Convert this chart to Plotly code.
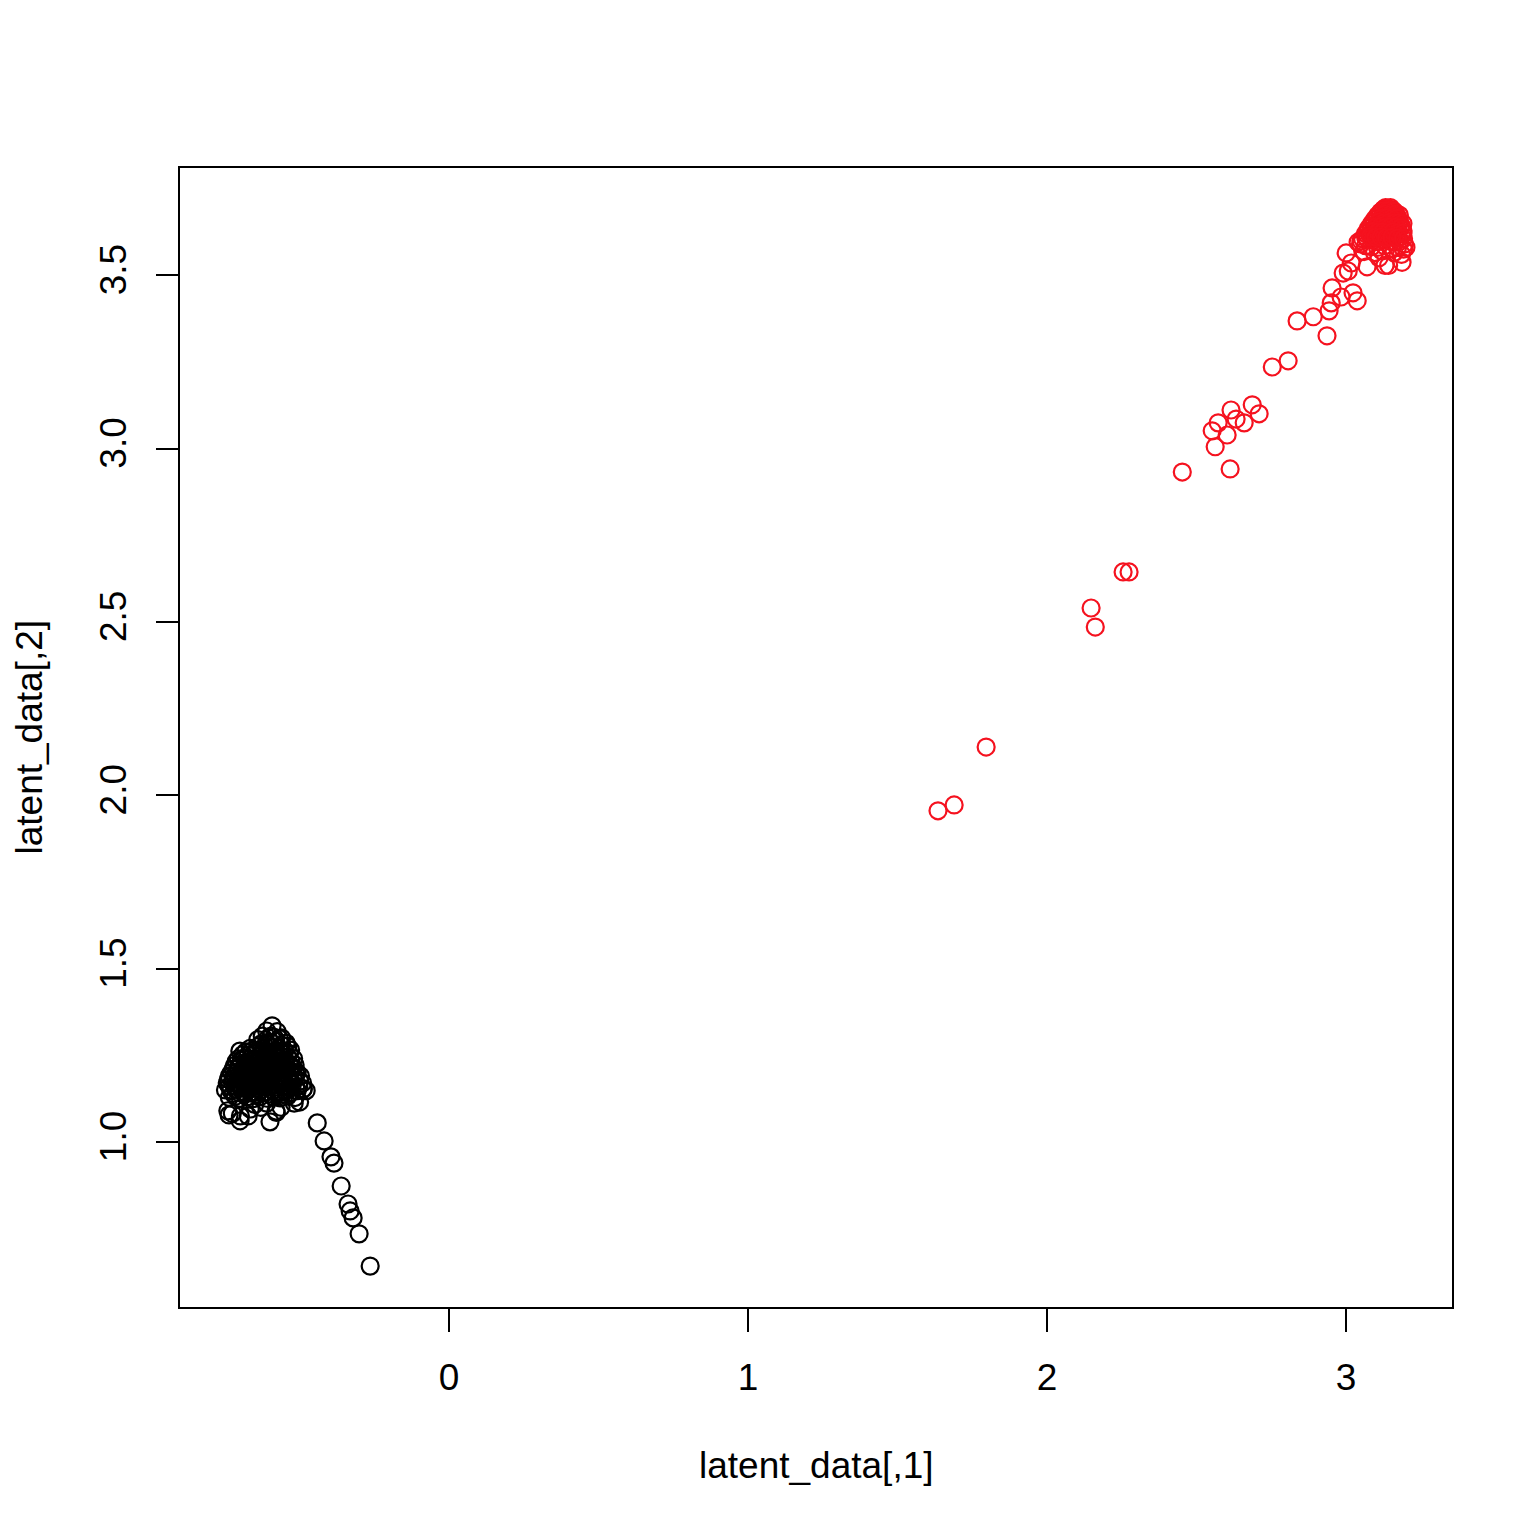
import plotly.graph_objects as go

# Black group (cluster + tail)
black_x = [
    -0.592, -0.610, -0.575, -0.625, -0.595, -0.560, -0.640, -0.580, -0.612, -0.545,
    -0.665, -0.640, -0.620, -0.598, -0.570, -0.550, -0.530,
    -0.700, -0.690, -0.672, -0.655, -0.632, -0.610, -0.588, -0.565, -0.540, -0.520,
    -0.712, -0.695, -0.678, -0.660, -0.642, -0.622, -0.600, -0.580, -0.558, -0.535, -0.515,
    -0.722, -0.705, -0.688, -0.668, -0.648, -0.628, -0.608, -0.588, -0.568, -0.548, -0.528, -0.508,
    -0.735, -0.715, -0.698, -0.678, -0.658, -0.638, -0.618, -0.598, -0.578, -0.556, -0.536, -0.516, -0.497,
    -0.742, -0.725, -0.707, -0.688, -0.668, -0.648, -0.628, -0.606, -0.586, -0.565, -0.545, -0.524, -0.503, -0.490,
    -0.748, -0.730, -0.712, -0.692, -0.672, -0.652, -0.632, -0.612, -0.590, -0.570, -0.548, -0.528, -0.508, -0.488, -0.478,
    -0.735, -0.715, -0.698, -0.676, -0.655, -0.633, -0.610, -0.588, -0.565, -0.540, -0.515, -0.500,
    -0.740, -0.736, -0.725, -0.699, -0.698, -0.672, -0.665, -0.650, -0.630, -0.610, -0.599, -0.579, -0.578, -0.562, -0.518, -0.488,
    -0.605, -0.585, -0.568,
    -0.630, -0.605, -0.590, -0.560, -0.540,
    -0.680, -0.660, -0.645, -0.625, -0.605, -0.580, -0.558, -0.535,
    -0.705, -0.685, -0.665, -0.648, -0.630, -0.612, -0.592, -0.572, -0.552, -0.530,
    -0.718, -0.700, -0.682, -0.662, -0.645, -0.625, -0.605, -0.585, -0.565, -0.545, -0.522,
    -0.728, -0.710, -0.692, -0.672, -0.652, -0.632, -0.612, -0.592, -0.572, -0.552, -0.532, -0.512,
    -0.738, -0.720, -0.700, -0.680, -0.660, -0.640, -0.620, -0.600, -0.580, -0.560, -0.540, -0.520, -0.500,
    -0.735, -0.716, -0.697, -0.678, -0.658, -0.638, -0.617, -0.596, -0.575, -0.555, -0.535, -0.513,
    -0.722, -0.702, -0.682, -0.662, -0.642, -0.622, -0.600, -0.580, -0.558, -0.535,
    -0.441, -0.418, -0.395, -0.385, -0.361, -0.338, -0.331, -0.321, -0.301, -0.264,
]
black_y = [
    1.335, 1.320, 1.318, 1.305, 1.305, 1.300, 1.295, 1.290, 1.285, 1.285,
    1.270, 1.275, 1.268, 1.272, 1.270, 1.262, 1.265,
    1.262, 1.252, 1.250, 1.255, 1.250, 1.252, 1.248, 1.250, 1.245, 1.240,
    1.232, 1.235, 1.228, 1.232, 1.230, 1.233, 1.228, 1.232, 1.228, 1.225, 1.222,
    1.210, 1.213, 1.208, 1.212, 1.207, 1.212, 1.208, 1.212, 1.206, 1.210, 1.204, 1.200,
    1.190, 1.192, 1.188, 1.193, 1.187, 1.190, 1.186, 1.191, 1.186, 1.190, 1.184, 1.186, 1.190,
    1.170, 1.172, 1.168, 1.172, 1.166, 1.170, 1.165, 1.170, 1.165, 1.168, 1.163, 1.166, 1.160, 1.170,
    1.150, 1.148, 1.152, 1.146, 1.150, 1.145, 1.150, 1.144, 1.148, 1.142, 1.147, 1.143, 1.148, 1.153, 1.148,
    1.128, 1.132, 1.126, 1.130, 1.125, 1.130, 1.126, 1.130, 1.127, 1.132, 1.128, 1.115,
    1.090, 1.078, 1.082, 1.061, 1.075, 1.075, 1.095, 1.108, 1.100, 1.112, 1.058, 1.089, 1.085, 1.100, 1.112, 1.153,
    1.300, 1.302, 1.298,
    1.282, 1.280, 1.284, 1.279, 1.276,
    1.260, 1.262, 1.259, 1.261, 1.258, 1.262, 1.258, 1.255,
    1.240, 1.242, 1.239, 1.241, 1.238, 1.242, 1.239, 1.241, 1.237, 1.235,
    1.220, 1.222, 1.219, 1.221, 1.218, 1.222, 1.219, 1.221, 1.218, 1.220, 1.215,
    1.200, 1.202, 1.199, 1.201, 1.198, 1.202, 1.199, 1.201, 1.198, 1.200, 1.197, 1.195,
    1.180, 1.182, 1.179, 1.181, 1.178, 1.182, 1.179, 1.181, 1.178, 1.180, 1.177, 1.179, 1.176,
    1.160, 1.162, 1.159, 1.161, 1.158, 1.162, 1.159, 1.161, 1.158, 1.160, 1.157, 1.158,
    1.140, 1.142, 1.139, 1.141, 1.138, 1.142, 1.139, 1.141, 1.138, 1.140,
    1.055, 1.003, 0.957, 0.939, 0.873, 0.821, 0.801, 0.781, 0.735, 0.642,
]

# Red group (trail + dense cluster)
red_x = [
    1.635, 1.689, 1.796, 2.147, 2.161, 2.254, 2.274, 2.452, 2.552, 2.562,
    2.572, 2.602, 2.612, 2.615, 2.632, 2.659, 2.686, 2.709, 2.753, 2.806,
    2.836, 2.890, 2.936, 2.943, 2.950, 2.953, 2.983, 2.990, 3.000, 3.007,
    3.017, 3.023, 3.037, 3.070, 3.050,
    3.125, 3.140, 3.155, 3.115, 3.132, 3.148, 3.165, 3.105, 3.122, 3.138,
    3.155, 3.172, 3.095, 3.112, 3.128, 3.145, 3.162, 3.178, 3.085, 3.102,
    3.118, 3.135, 3.152, 3.168, 3.185, 3.075, 3.092, 3.108, 3.125, 3.142,
    3.158, 3.175, 3.190, 3.065, 3.082, 3.098, 3.115, 3.132, 3.150, 3.168,
    3.185, 3.055, 3.072, 3.090, 3.108, 3.125, 3.145, 3.162, 3.180, 3.195,
    3.048, 3.065, 3.085, 3.105, 3.128, 3.152, 3.172, 3.192, 3.200, 3.040,
    3.060, 3.095, 3.120, 3.160, 3.185, 3.130, 3.142, 3.187, 3.110,
    3.132, 3.148,
    3.122, 3.140, 3.160,
    3.112, 3.130, 3.147, 3.163, 3.178,
    3.103, 3.120, 3.137, 3.153, 3.170,
    3.092, 3.110, 3.127, 3.143, 3.160, 3.176, 3.190,
    3.082, 3.100, 3.117, 3.133, 3.150, 3.167, 3.183,
    3.073, 3.090, 3.107, 3.123, 3.140, 3.157, 3.173, 3.190,
    3.065, 3.082, 3.100, 3.117, 3.135, 3.153, 3.172, 3.192,
]
red_y = [
    1.955, 1.972, 2.139, 2.540, 2.485, 2.644, 2.644, 2.932, 3.051, 3.005,
    3.074, 3.039, 2.941, 3.111, 3.085, 3.074, 3.126, 3.100, 3.235, 3.253,
    3.368, 3.380, 3.325, 3.397, 3.420, 3.463, 3.437, 3.506, 3.564, 3.512,
    3.535, 3.449, 3.426, 3.524, 3.599,
    3.690, 3.692, 3.688, 3.682, 3.680, 3.683, 3.680, 3.672, 3.670, 3.668,
    3.671, 3.668, 3.660, 3.658, 3.657, 3.660, 3.657, 3.655, 3.648, 3.646,
    3.645, 3.648, 3.644, 3.646, 3.642, 3.635, 3.633, 3.630, 3.634, 3.630,
    3.633, 3.630, 3.628, 3.620, 3.618, 3.615, 3.620, 3.615, 3.618, 3.614,
    3.612, 3.605, 3.602, 3.600, 3.598, 3.602, 3.598, 3.595, 3.598, 3.590,
    3.590, 3.585, 3.582, 3.580, 3.585, 3.578, 3.580, 3.575, 3.580, 3.595,
    3.568, 3.565, 3.570, 3.565, 3.560, 3.528, 3.528, 3.537, 3.550,
    3.695, 3.695,
    3.685, 3.686, 3.684,
    3.675, 3.676, 3.674, 3.675, 3.673,
    3.665, 3.664, 3.666, 3.663, 3.664,
    3.652, 3.653, 3.651, 3.652, 3.650, 3.651, 3.649,
    3.640, 3.639, 3.641, 3.638, 3.640, 3.639, 3.637,
    3.625, 3.626, 3.624, 3.625, 3.623, 3.625, 3.622, 3.621,
    3.610, 3.611, 3.609, 3.610, 3.608, 3.609, 3.607, 3.605,
]

x_ticks = [0, 1, 2, 3]
y_ticks = [1.0, 1.5, 2.0, 2.5, 3.0, 3.5]
y_tick_labels = ["1.0", "1.5", "2.0", "2.5", "3.0", "3.5"]

FONT = "Liberation Sans, Arial, Helvetica, sans-serif"
RED = "#F5121F"
FS = 37

fig = go.Figure()
fig.add_trace(go.Scatter(
    x=black_x, y=black_y, mode="markers",
    marker=dict(symbol="circle-open", size=17, color="black", line=dict(width=2.2, color="black")),
    showlegend=False, hoverinfo="skip",
))
fig.add_trace(go.Scatter(
    x=red_x, y=red_y, mode="markers",
    marker=dict(symbol="circle-open", size=17, color=RED, line=dict(width=2.2, color=RED)),
    showlegend=False, hoverinfo="skip",
))

fig.update_layout(
    width=1534, height=1516,
    paper_bgcolor="white", plot_bgcolor="white",
    margin=dict(l=172, r=90, t=160, b=217),
    font=dict(family=FONT, size=FS, color="black"),
    xaxis=dict(
        range=[-0.90, 3.354], showgrid=False, zeroline=False,
        tickmode="array", tickvals=x_ticks, ticktext=[str(v) for v in x_ticks],
        ticks="outside", ticklen=23, tickwidth=2, tickcolor="black",
        showline=True, mirror=True, linecolor="black", linewidth=2,
        tickfont=dict(family=FONT, size=FS, color="black"),
        ticklabelstandoff=14,
    ),
    yaxis=dict(
        range=[0.524, 3.809], showgrid=False, zeroline=False,
        tickmode="array", tickvals=y_ticks, ticktext=y_tick_labels,
        ticks="outside", ticklen=22, tickwidth=2, tickcolor="black",
        showline=True, mirror=True, linecolor="black", linewidth=2,
        tickangle=-90,
        tickfont=dict(family=FONT, size=FS, color="black"),
        ticklabelstandoff=15,
    ),
    annotations=[
        dict(text="latent_data[,1]", xref="paper", yref="paper", x=0.5, y=0,
             xanchor="center", yanchor="middle", yshift=-158, showarrow=False,
             font=dict(family=FONT, size=FS, color="black")),
        dict(text="latent_data[,2]", xref="paper", yref="paper", x=0, y=0.5,
             xanchor="center", yanchor="middle", xshift=-151, textangle=-90, showarrow=False,
             borderpad=0,
             font=dict(family=FONT, size=FS, color="black")),
    ],
)

fig.write_html("out.html")
